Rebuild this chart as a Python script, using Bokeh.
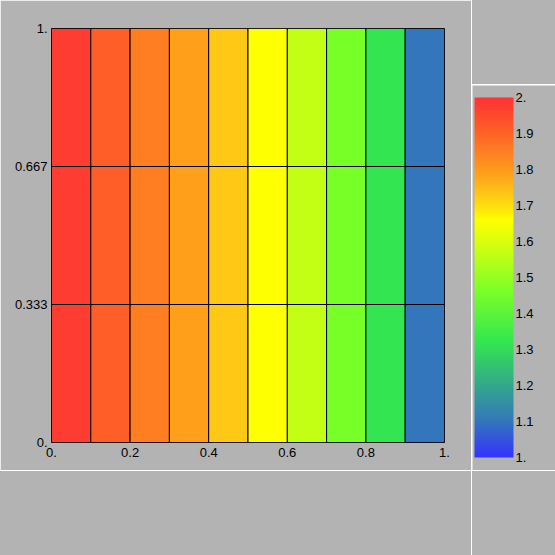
import numpy as np
from bokeh.plotting import figure
from bokeh.models import ColumnDataSource, LinearColorMapper, ColorBar, FixedTicker, Div
from bokeh.layouts import row, column
from bokeh.embed import file_html
from bokeh.resources import INLINE

# ---- data ----
x_edges = [0.0, 0.1, 0.2, 0.3, 0.4, 0.5, 0.6, 0.7, 0.8, 0.9, 1.0]
y_edges = [0.0, 1 / 3, 2 / 3, 1.0]
row0_values = [1.98, 1.91, 1.85, 1.79, 1.73, 1.66, 1.57, 1.46, 1.32, 1.10]
row1_values = [1.98, 1.91, 1.85, 1.79, 1.73, 1.66, 1.57, 1.46, 1.32, 1.10]
row2_values = [1.98, 1.91, 1.85, 1.79, 1.73, 1.66, 1.57, 1.46, 1.32, 1.10]
x_ticks = [0.0, 0.2, 0.4, 0.6, 0.8, 1.0]
x_tick_labels = ["0.", "0.2", "0.4", "0.6", "0.8", "1."]
y_ticks = [0.0, 1 / 3, 2 / 3, 1.0]
y_tick_labels = ["0.", "0.333", "0.667", "1."]
cb_ticks = [1.0, 1.1, 1.2, 1.3, 1.4, 1.5, 1.6, 1.7, 1.8, 1.9, 2.0]
cb_tick_labels = ["1.", "1.1", "1.2", "1.3", "1.4", "1.5", "1.6", "1.7", "1.8", "1.9", "2."]

# colour scale anchors (style)
anchor_values = [1.00, 1.10, 1.20, 1.32, 1.46, 1.57, 1.66, 1.73, 1.79, 1.85, 1.91, 2.00]
anchor_colors = ["#3333ff", "#3377bb", "#33a88a", "#33e650", "#7aff28", "#c4ff14",
                 "#ffff00", "#ffc814", "#ffa01a", "#ff7f22", "#ff5e28", "#ff3333"]

BG = "#b3b3b3"
FONT = "Liberation Sans"


def hex2rgb(h):
    return [int(h[i:i + 2], 16) for i in (1, 3, 5)]


rgb = np.array([hex2rgb(c) for c in anchor_colors], dtype=float)
grid = np.linspace(1.0, 2.0, 256)
palette = []
for g in grid:
    r = np.interp(g, anchor_values, rgb[:, 0])
    gg = np.interp(g, anchor_values, rgb[:, 1])
    b = np.interp(g, anchor_values, rgb[:, 2])
    palette.append("#%02x%02x%02x" % (int(round(r)), int(round(gg)), int(round(b))))

mapper = LinearColorMapper(palette=palette, low=1.0, high=2.0)

rows = [row0_values, row1_values, row2_values]
left, right, bottom, top, val = [], [], [], [], []
for j, rv in enumerate(rows):
    for i, v in enumerate(rv):
        left.append(x_edges[i]); right.append(x_edges[i + 1])
        bottom.append(y_edges[j]); top.append(y_edges[j + 1])
        val.append(v)
src = ColumnDataSource(dict(left=left, right=right, bottom=bottom, top=top, v=val))

# ---- main plot ----
p = figure(width=471, height=470, x_range=(0, 1), y_range=(0, 1),
           toolbar_location=None, output_backend="svg",
           min_border_left=51, min_border_right=27, min_border_top=28, min_border_bottom=28)
p.background_fill_color = BG
p.border_fill_color = BG
p.outline_line_color = "black"
p.grid.grid_line_color = None
p.quad(left="left", right="right", bottom="bottom", top="top", source=src,
       fill_color={"field": "v", "transform": mapper}, line_color="black", line_width=1)

p.xaxis.ticker = FixedTicker(ticks=x_ticks)
p.xaxis.major_label_overrides = {t: l for t, l in zip(x_ticks, x_tick_labels)}
p.yaxis.ticker = FixedTicker(ticks=y_ticks)
p.yaxis.major_label_overrides = {t: l for t, l in zip(y_ticks, y_tick_labels)}
for ax in (p.xaxis, p.yaxis):
    ax.axis_line_color = None
    ax.major_tick_line_color = None
    ax.minor_tick_line_color = None
    ax.major_tick_out = 0
    ax.major_tick_in = 0
    ax.major_label_text_font = FONT
    ax.major_label_text_font_size = "13px"
    ax.major_label_text_color = "black"
p.xaxis.major_label_standoff = 5
p.yaxis.major_label_standoff = 4


def blank(w, h):
    return Div(text="", width=w, height=h,
               styles={"background-color": BG, "margin": "0", "padding": "0"})


def blank_fig(w, h):
    f = figure(width=w, height=h, toolbar_location=None, output_backend="svg",
               min_border=0)
    f.axis.visible = False
    f.grid.grid_line_color = None
    f.outline_line_color = None
    f.background_fill_color = BG
    f.border_fill_color = BG
    return f


bl = blank(471, 84)
tr = blank(83, 84)
br = blank(83, 84)
cbf = blank_fig(83, 385)

cb = ColorBar(color_mapper=mapper, ticker=FixedTicker(ticks=cb_ticks),
              major_label_overrides={t: l for t, l in zip(cb_ticks, cb_tick_labels)},
              width=39, height=360, location=(2, 13), padding=0,
              background_fill_alpha=0, border_line_color=None,
              major_tick_line_color=None, bar_line_color=None,
              label_standoff=2,
              major_label_text_font=FONT, major_label_text_font_size="13px",
              major_label_text_color="black")
cbf.add_layout(cb, "center")

layout = row(column(p, bl, spacing=1), column(tr, cbf, br, spacing=1), spacing=1)
open("out.html", "w").write(file_html(layout, INLINE))
